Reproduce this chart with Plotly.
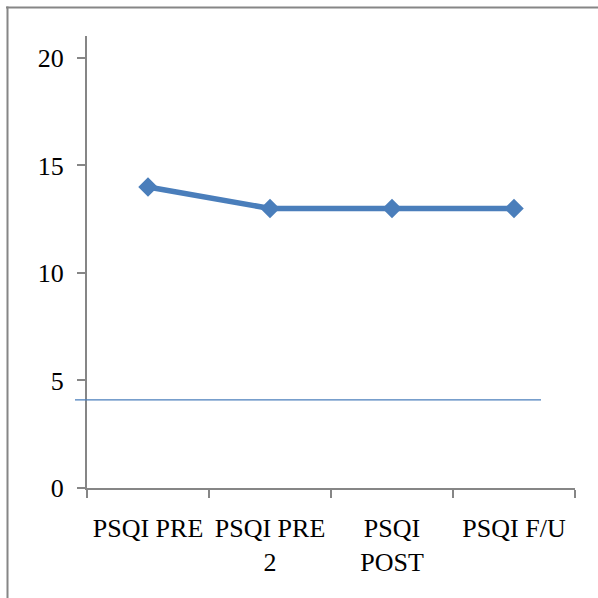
import plotly.graph_objects as go

categories = ["PSQI PRE", "PSQI PRE 2", "PSQI POST", "PSQI F/U"]
tick_labels = ["PSQI PRE", "PSQI PRE<br>2", "PSQI<br>POST", "PSQI F/U"]
psqi_scores = [14, 13, 13, 13]
cutoff_value = [4.1]
y_ticks = [0, 5, 10, 15, 20]

W, H = 598, 598
L, R, T, B = 87, 23, 36, 110
pw, ph = W - L - R, H - T - B

def px_x(px):
    return (px - L) / pw

def px_y(py):
    return (H - B - py) / ph

blue = "#4A7EBB"
gray = "#868686"
font = "Liberation Serif, Times New Roman, serif"

fig = go.Figure()
fig.add_trace(go.Scatter(
    x=categories, y=psqi_scores, mode="lines+markers",
    line=dict(color=blue, width=5.5),
    marker=dict(symbol="diamond", size=15, color=blue),
    showlegend=False, cliponaxis=False,
))

shapes = [
    dict(type="line", xref="paper", yref="y", x0=px_x(75), x1=px_x(541),
         y0=cutoff_value[0], y1=cutoff_value[0], line=dict(color=blue, width=1.3)),
    dict(type="line", xref="paper", yref="paper", x0=px_x(6), x1=px_x(600),
         y0=px_y(7.5), y1=px_y(7.5), line=dict(color=gray, width=2)),
    dict(type="line", xref="paper", yref="paper", x0=px_x(7.5), x1=px_x(7.5),
         y0=px_y(6.5), y1=px_y(600), line=dict(color=gray, width=2)),
]

fig.update_layout(
    width=W, height=H,
    margin=dict(l=L, r=R, t=T, b=B, pad=0),
    paper_bgcolor="white", plot_bgcolor="white",
    font=dict(family=font, size=26, color="black"),
    shapes=shapes,
    xaxis=dict(
        type="category", range=[-0.5, 3.5],
        tickmode="array", tickvals=categories, ticktext=tick_labels,
        tickson="boundaries", ticks="outside", ticklen=8, tickwidth=2, tickcolor=gray,
        showline=True, linecolor=gray, linewidth=2, showgrid=False, zeroline=False,
        tickangle=0, ticklabelstandoff=16,
    ),
    yaxis=dict(
        range=[0, 21.02], tickvals=y_ticks,
        ticks="outside", ticklen=8, tickwidth=2, tickcolor=gray,
        showline=True, linecolor=gray, linewidth=2, showgrid=False, zeroline=False,
        ticklabelstandoff=8,
    ),
)

fig.write_html(
    "out.html",
    config={"displayModeBar": False},
    post_script="document.body.style.margin='0px';document.body.style.overflow='hidden';",
)
